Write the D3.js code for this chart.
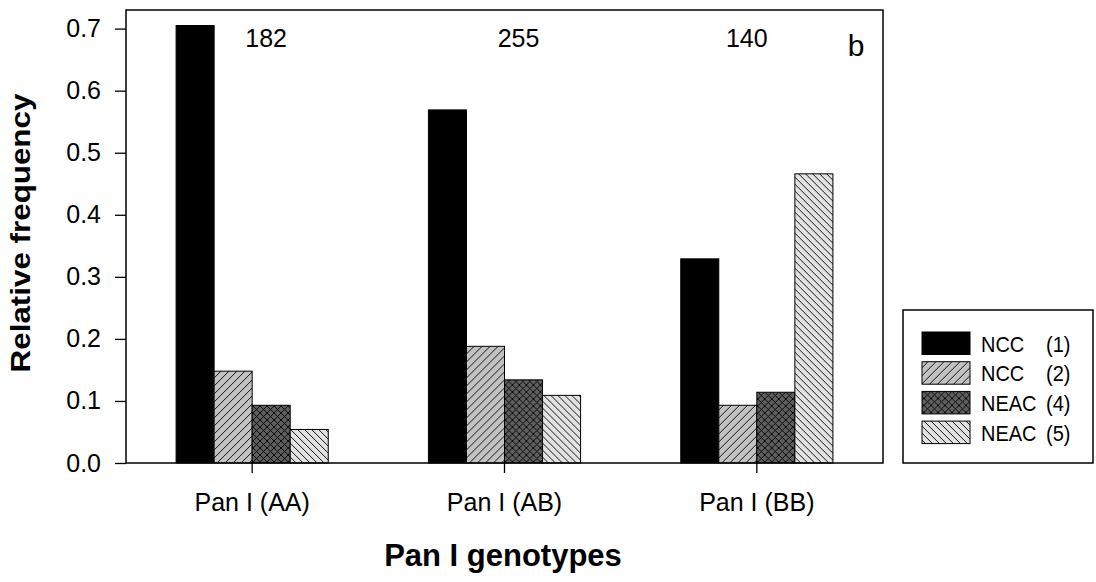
<!DOCTYPE html>
<html>
<head>
<meta charset="utf-8">
<script src="https://cdn.jsdelivr.net/npm/d3@7"></script>
<style>
  html, body { margin: 0; padding: 0; background: #fff; }
  svg { display: block; font-family: Arial, "Liberation Sans", sans-serif; }
</style>
</head>
<body>
<svg id="chart" width="1096" height="582"></svg>
<script>
// Pan I genotype groups and sample sizes
const categories = ["Pan I (AA)", "Pan I (AB)", "Pan I (BB)"];
const sampleSizes = [182, 255, 140];

// Series (populations) and their relative frequencies per genotype
const seriesNames = ["NCC", "NCC", "NEAC", "NEAC"];
const seriesCodes = ["(1)", "(2)", "(4)", "(5)"];
const ncc1  = [0.705, 0.569, 0.329];
const ncc2  = [0.148, 0.188, 0.093];
const neac4 = [0.093, 0.134, 0.114];
const neac5 = [0.054, 0.109, 0.466];

const yTicks = [0, 0.1, 0.2, 0.3, 0.4, 0.5, 0.6, 0.7];

const seriesValues = [ncc1, ncc2, neac4, neac5];
const seriesKeys = ["s1", "s2", "s4", "s5"];

const FONT = "Arial, 'Liberation Sans', sans-serif";
const svg = d3.select("#chart");

// Fill patterns for the four series
const defs = svg.append("defs");
function hatch(id, bg, size, paths) {
  const p = defs.append("pattern")
    .attr("id", id)
    .attr("patternUnits", "userSpaceOnUse")
    .attr("width", size).attr("height", size);
  p.append("rect").attr("width", size).attr("height", size).attr("fill", bg);
  paths.forEach(d => p.append("path").attr("d", d)
    .attr("stroke", "#000").attr("stroke-width", 0.9).attr("fill", "none"));
}
hatch("p2", "#c2c2c2", 8, ["M-2,2 L2,-2 M0,8 L8,0 M6,10 L10,6"]);
hatch("p4", "#5e5e5e", 7, ["M-2,2 L2,-2 M0,7 L7,0 M5,9 L9,5", "M-2,5 L2,9 M0,0 L7,7 M5,-2 L9,2"]);
hatch("p5", "#e2e2e2", 7, ["M-2,5 L2,9 M0,0 L7,7 M5,-2 L9,2"]);

const fills = { s1: "#000", s2: "url(#p2)", s4: "url(#p4)", s5: "url(#p5)" };

const plotLeft = 126, plotRight = 883, plotTop = 10, plotBottom = 463;

const y = d3.scaleLinear().domain([0, 0.73]).range([plotBottom, plotTop]);
const x0 = d3.scaleBand().domain(categories).range([plotLeft, plotRight])
  .paddingInner(0.397).paddingOuter(0.1985);
const x1 = d3.scaleBand().domain(seriesKeys).range([0, x0.bandwidth()]);

// Bars
const groups = svg.append("g").selectAll("g")
  .data(categories)
  .join("g")
  .attr("transform", d => `translate(${x0(d)},0)`);

groups.selectAll("rect")
  .data((d, i) => seriesKeys.map((k, j) => ({ key: k, value: seriesValues[j][i] })))
  .join("rect")
  .attr("x", d => x1(d.key))
  .attr("width", x1.bandwidth())
  .attr("y", d => y(d.value))
  .attr("height", d => y(0) - y(d.value))
  .attr("fill", d => fills[d.key])
  .attr("stroke", "#000")
  .attr("stroke-width", 1);

// Frame
svg.append("rect")
  .attr("x", plotLeft).attr("y", plotTop)
  .attr("width", plotRight - plotLeft).attr("height", plotBottom - plotTop)
  .attr("fill", "none").attr("stroke", "#000").attr("stroke-width", 1.5);

// Y axis
const yAxis = svg.append("g")
  .attr("transform", `translate(${plotLeft},0)`)
  .call(d3.axisLeft(y).tickValues(yTicks).tickFormat(d3.format(".1f"))
    .tickSize(11).tickPadding(14));
yAxis.select(".domain").remove();
yAxis.selectAll("line").attr("stroke-width", 1.3);
yAxis.selectAll("text").attr("font-size", 25).attr("fill", "#000")
  .attr("font-family", FONT);

// X axis
const xAxis = svg.append("g")
  .attr("transform", `translate(0,${plotBottom})`)
  .call(d3.axisBottom(x0).tickSize(10).tickPadding(20));
xAxis.select(".domain").remove();
xAxis.selectAll("line").attr("stroke-width", 1.3);
xAxis.selectAll("text").attr("font-size", 25).attr("fill", "#000")
  .attr("font-family", FONT);

// Sample sizes above each group
svg.append("g").selectAll("text")
  .data(categories)
  .join("text")
  .attr("x", (d, i) => x0(d) + x0.bandwidth() / 2 + [14, 14, -10][i])
  .attr("y", 47)
  .attr("text-anchor", "middle")
  .attr("font-size", 25)
  .text((d, i) => sampleSizes[i]);

// Panel letter
svg.append("text").attr("x", 856).attr("y", 56)
  .attr("text-anchor", "middle").attr("font-size", 30).text("b");

// Axis titles
svg.append("text")
  .attr("x", 503).attr("y", 566)
  .attr("text-anchor", "middle").attr("font-size", 31).attr("font-weight", "bold")
  .text("Pan I genotypes");

svg.append("text")
  .attr("transform", "translate(30,233) rotate(-90) scale(1.12,1)")
  .attr("text-anchor", "middle").attr("font-size", 28).attr("font-weight", "bold")
  .text("Relative frequency");

// Legend
const legend = svg.append("g");
legend.append("rect")
  .attr("x", 903).attr("y", 310).attr("width", 190).attr("height", 153)
  .attr("fill", "#fff").attr("stroke", "#000").attr("stroke-width", 1.5);

const rows = legend.selectAll("g.row")
  .data(seriesKeys)
  .join("g")
  .attr("class", "row")
  .attr("transform", (d, i) => `translate(0,${332 + i * 29.7})`);
rows.append("rect")
  .attr("x", 922).attr("y", 0).attr("width", 48).attr("height", 22.5)
  .attr("fill", d => fills[d]).attr("stroke", "#000").attr("stroke-width", 1);
rows.append("text")
  .attr("transform", "translate(981,19.5) scale(1,1.12)")
  .attr("font-size", 20)
  .text((d, i) => seriesNames[i]);
rows.append("text")
  .attr("transform", "translate(1046,19.5) scale(1,1.12)")
  .attr("font-size", 20)
  .text((d, i) => seriesCodes[i]);
</script>
</body>
</html>
